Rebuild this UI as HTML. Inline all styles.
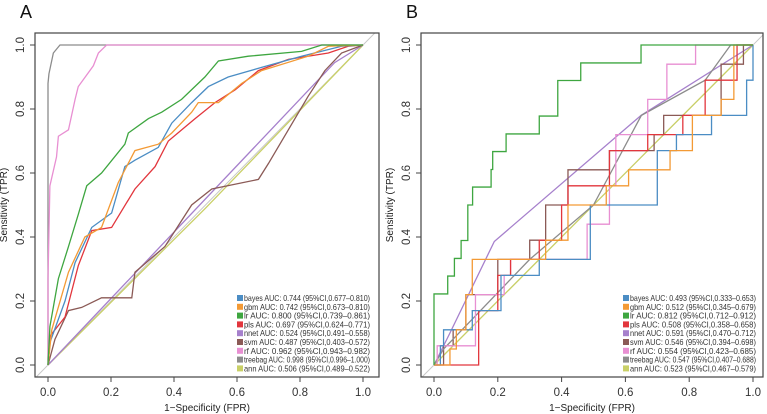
<!DOCTYPE html>
<html><head><meta charset="utf-8"><style>
body{margin:0;background:#fff;width:767px;height:414px;overflow:hidden}
svg{display:block;font-family:"Liberation Sans",Arial,sans-serif}
</style></head><body>
<svg id="chart" width="767" height="414" viewBox="0 0 767 414"></svg>
<script>
// ---- data ----
const models = ["bayes","gbm","lr","pls","nnet","svm","rf","treebag","ann"];
const colors = ["#4b8dc4","#f39a35","#3ea640","#e2363d","#a680cc","#8b5a56","#e88fd2","#8c8c8c","#c9d067"];
const legendA = ["bayes AUC: 0.744 (95%CI,0.677\u20130.810)","gbm AUC: 0.742 (95%CI,0.673\u20130.810)","lr AUC: 0.800 (95%CI,0.739\u20130.861)","pls AUC: 0.697 (95%CI,0.624\u20130.771)","nnet AUC: 0.524 (95%CI,0.491\u20130.558)","svm AUC: 0.487 (95%CI,0.403\u20130.572)","rf AUC: 0.962 (95%CI,0.943\u20130.982)","treebag AUC: 0.998 (95%CI,0.996\u20131.000)","ann AUC: 0.506 (95%CI,0.489\u20130.522)"];
const legendB = ["bayes AUC: 0.493 (95%CI,0.333\u20130.653)","gbm AUC: 0.512 (95%CI,0.345\u20130.679)","lr AUC: 0.812 (95%CI,0.712\u20130.912)","pls AUC: 0.508 (95%CI,0.358\u20130.658)","nnet AUC: 0.591 (95%CI,0.470\u20130.712)","svm AUC: 0.546 (95%CI,0.394\u20130.698)","rf AUC: 0.554 (95%CI,0.423\u20130.685)","treebag AUC: 0.547 (95%CI,0.407\u20130.688)","ann AUC: 0.523 (95%CI,0.467\u20130.579)"];
const ticks = [0,0.2,0.4,0.6,0.8,1.0];
const tickLabels = ["0.0","0.2","0.4","0.6","0.8","1.0"];

// Panel A (polyline points)
const bayesA_fpr=[0,0.006,0.054,0.086,0.139,0.202,0.244,0.276,0.35,0.393,0.456,0.509,0.572,0.678,0.805,0.932,1];
const bayesA_tpr=[0,0.07,0.2,0.32,0.43,0.475,0.62,0.64,0.68,0.756,0.82,0.87,0.9,0.93,0.965,0.996,1];
const gbmA_fpr=[0,0.012,0.065,0.117,0.17,0.223,0.276,0.35,0.393,0.456,0.477,0.541,0.615,0.678,0.826,0.89,1];
const gbmA_tpr=[0,0.11,0.29,0.4,0.43,0.57,0.67,0.69,0.725,0.79,0.82,0.82,0.88,0.92,0.965,0.996,1];
const lrA_fpr=[0,0.006,0.033,0.065,0.096,0.123,0.17,0.244,0.255,0.319,0.361,0.424,0.498,0.541,0.636,0.805,0.869,1];
const lrA_tpr=[0,0.12,0.27,0.37,0.47,0.56,0.6,0.69,0.725,0.77,0.79,0.83,0.9,0.95,0.965,0.98,1,1];
const plsA_fpr=[0,0.006,0.054,0.096,0.139,0.202,0.276,0.34,0.382,0.467,0.53,0.594,0.668,0.763,0.89,0.953,1];
const plsA_tpr=[0,0.09,0.15,0.31,0.42,0.43,0.55,0.62,0.7,0.77,0.82,0.86,0.92,0.955,0.975,0.996,1];
const nnetA_fpr=[0,0.91,1];
const nnetA_tpr=[0,0.945,1];
const svmA_fpr=[0,0.022,0.065,0.107,0.17,0.266,0.276,0.371,0.456,0.52,0.668,0.7,0.763,0.826,0.879,0.932,1];
const svmA_tpr=[0,0.08,0.17,0.18,0.21,0.21,0.29,0.37,0.5,0.55,0.58,0.63,0.735,0.84,0.92,0.975,1];
const rfA_fpr=[0,0,0.006,0.027,0.033,0.065,0.086,0.096,0.144,0.16,0.186,1];
const rfA_tpr=[0,0.27,0.56,0.65,0.715,0.735,0.83,0.87,0.935,0.975,1,1];
const treebagA_fpr=[0,0,0.003,0.017,0.038,1];
const treebagA_tpr=[0,0.88,0.91,0.975,1,1];
const annA_fpr=[0,0.5,1];
const annA_tpr=[0,0.49,1];

// Panel B (step: vertical at fpr[i] up to tpr[i], then horizontal)
const bayesB_fpr=[0.02,0.03,0.12,0.21,0.33,0.49,0.64,0.7,0.76,0.87,0.98,1];
const bayesB_tpr=[0.06,0.11,0.17,0.28,0.33,0.5,0.5,0.67,0.72,0.78,0.89,1];
const gbmB_fpr=[0.05,0.07,0.1,0.12,0.25,0.35,0.42,0.54,0.61,0.74,0.81,0.9,0.94];
const gbmB_tpr=[0.05,0.11,0.22,0.33,0.33,0.39,0.5,0.56,0.61,0.67,0.78,0.83,1];
const lrB_fpr=[0,0.043,0.064,0.085,0.106,0.121,0.179,0.184,0.226,0.33,0.388,0.46,0.649];
const lrB_tpr=[0.222,0.278,0.333,0.389,0.5,0.556,0.611,0.667,0.722,0.778,0.889,0.944,1];
const plsB_fpr=[0.14,0.2,0.24,0.33,0.4,0.42,0.55,0.67,0.78,0.85,0.95];
const plsB_tpr=[0.17,0.28,0.33,0.39,0.5,0.56,0.67,0.72,0.78,0.89,1];
const nnetB_fpr=[0,0.05,0.189,0.649,1];
const nnetB_tpr=[0,0.1,0.386,0.78,1];
const svmB_fpr=[0.03,0.06,0.1,0.2,0.3,0.35,0.42,0.55,0.69,0.72,0.9,0.97];
const svmB_tpr=[0.06,0.11,0.22,0.33,0.39,0.5,0.61,0.67,0.72,0.78,0.94,1];
const rfB_fpr=[0.01,0.1,0.13,0.22,0.24,0.44,0.48,0.55,0.57,0.67,0.73,0.82];
const rfB_tpr=[0.06,0.06,0.22,0.28,0.33,0.33,0.44,0.56,0.72,0.83,0.94,1];
const treebagB_fpr=[0,0.03,0.3,0.5,0.65,0.85,0.93,1];
const treebagB_tpr=[0,0.05,0.33,0.5,0.78,0.89,1,1];
const annB_fpr=[0,0.3,1];
const annB_tpr=[0,0.3,1];

const NS="http://www.w3.org/2000/svg";
const svgEl=document.getElementById('chart');
function mk(tag,attrs,parent){const e=document.createElementNS(NS,tag);for(const k in attrs)e.setAttribute(k,attrs[k]);(parent||svgEl).appendChild(e);return e;}

const panels=[
 {id:"a",letter:"A",fx:[35,379],x0:48,x1:363,leg:237,
  lines:[[bayesA_fpr,bayesA_tpr],[gbmA_fpr,gbmA_tpr],[lrA_fpr,lrA_tpr],[plsA_fpr,plsA_tpr],[nnetA_fpr,nnetA_tpr],[svmA_fpr,svmA_tpr],[rfA_fpr,rfA_tpr],[treebagA_fpr,treebagA_tpr],[annA_fpr,annA_tpr]],
  step:[false,false,false,false,false,false,false,false,false],legend:legendA},
 {id:"b",letter:"B",fx:[421,763],x0:434,x1:753,leg:623,
  lines:[[bayesB_fpr,bayesB_tpr],[gbmB_fpr,gbmB_tpr],[lrB_fpr,lrB_tpr],[plsB_fpr,plsB_tpr],[nnetB_fpr,nnetB_tpr],[svmB_fpr,svmB_tpr],[rfB_fpr,rfB_tpr],[treebagB_fpr,treebagB_tpr],[annB_fpr,annB_tpr]],
  step:[true,true,true,true,false,true,true,false,false],legend:legendB}
];
const pTop=33,pBottom=377,yT1=45,yT0=365;
const sy=v=>yT0-(yT0-yT1)*v;

panels.forEach(p=>{
 const sx=v=>p.x0+(p.x1-p.x0)*v;
 const g=mk('g',{});
 
 
 const lab=mk('text',{x:p.fx[0]-15,y:18,'font-size':18,fill:'#111'},g);lab.textContent=p.letter;
 
 
 const cid='clip'+p.id;
 const cp=mk('clipPath',{id:cid},g);mk('rect',{x:p.fx[0],y:pTop,width:p.fx[1]-p.fx[0],height:pBottom-pTop},cp);
 const diag=mk('line',{x1:sx(-0.05),y1:sy(-0.05),x2:sx(1.05),y2:sy(1.05),stroke:'#c8c8c8','stroke-width':1,'clip-path':'url(#'+cid+')'},g);
 
 
 const order=[8,4,5,7,6,3,0,1,2];
 order.forEach(i=>{
  const f=p.lines[i][0],t=p.lines[i][1];let d;
  if(p.step[i]){
   d='M'+sx(0)+','+sy(0)+' L'+sx(f[0])+','+sy(0);
   let prevT=0;
   for(let k=0;k<f.length;k++){d+=' L'+sx(f[k])+','+sy(prevT)+' L'+sx(f[k])+','+sy(t[k]);prevT=t[k];}
   d+=' L'+sx(1)+','+sy(prevT);
  } else {
   d=f.map((v,k)=>(k?'L':'M')+sx(v)+','+sy(t[k])).join(' ');
  }
  const path=mk('path',{d:d,fill:'none',stroke:colors[i],'stroke-width':1.3,'clip-path':'url(#'+cid+')'},g);
  
  
 });
 const fr=mk('rect',{x:p.fx[0],y:pTop,width:p.fx[1]-p.fx[0],height:pBottom-pTop,fill:'none',stroke:'#444','stroke-width':1.2},g);
 
 
 ticks.forEach((v,k)=>{
  mk('line',{x1:sx(v),y1:pBottom,x2:sx(v),y2:pBottom+5,stroke:'#444'},g);
  const xt=mk('text',{x:sx(v),y:pBottom+19,'font-size':11.5,fill:'#333','text-anchor':'middle'},g);xt.textContent=tickLabels[k];
  
  
  mk('line',{x1:p.fx[0],y1:sy(v),x2:p.fx[0]-5,y2:sy(v),stroke:'#444'},g);
  const yx=p.fx[0]-11,yy=sy(v);
  const yt=mk('text',{x:yx,y:yy,'font-size':11.5,fill:'#333','text-anchor':'middle',transform:'rotate(-90 '+yx+' '+yy+')'},g);yt.textContent=tickLabels[k];
  
  
 });
 const xtitle=mk('text',{x:(p.fx[0]+p.fx[1])/2,y:411,'font-size':10,fill:'#222','text-anchor':'middle'},g);xtitle.textContent='1\u2212Specificity (FPR)';
 
 
 const tx=p.fx[0]-28,ty=205;
 const ytitle=mk('text',{x:tx,y:ty,'font-size':10,fill:'#222','text-anchor':'middle',transform:'rotate(-90 '+tx+' '+ty+')'},g);ytitle.textContent='Sensitivity (TPR)';
 
 
 p.legend.forEach((s,i)=>{
  const yy=298+i*8.8;
  const sq=mk('rect',{x:p.leg,y:yy-3,width:6,height:6,fill:colors[i]},g);
  
  
  const tt=mk('text',{x:p.leg+7,y:yy+3,'font-size':8.4,fill:'#333',textLength:(s.length>40?128:126),lengthAdjust:'spacingAndGlyphs'},g);tt.textContent=s;
  
  
 });
});
</script>
</body></html>
